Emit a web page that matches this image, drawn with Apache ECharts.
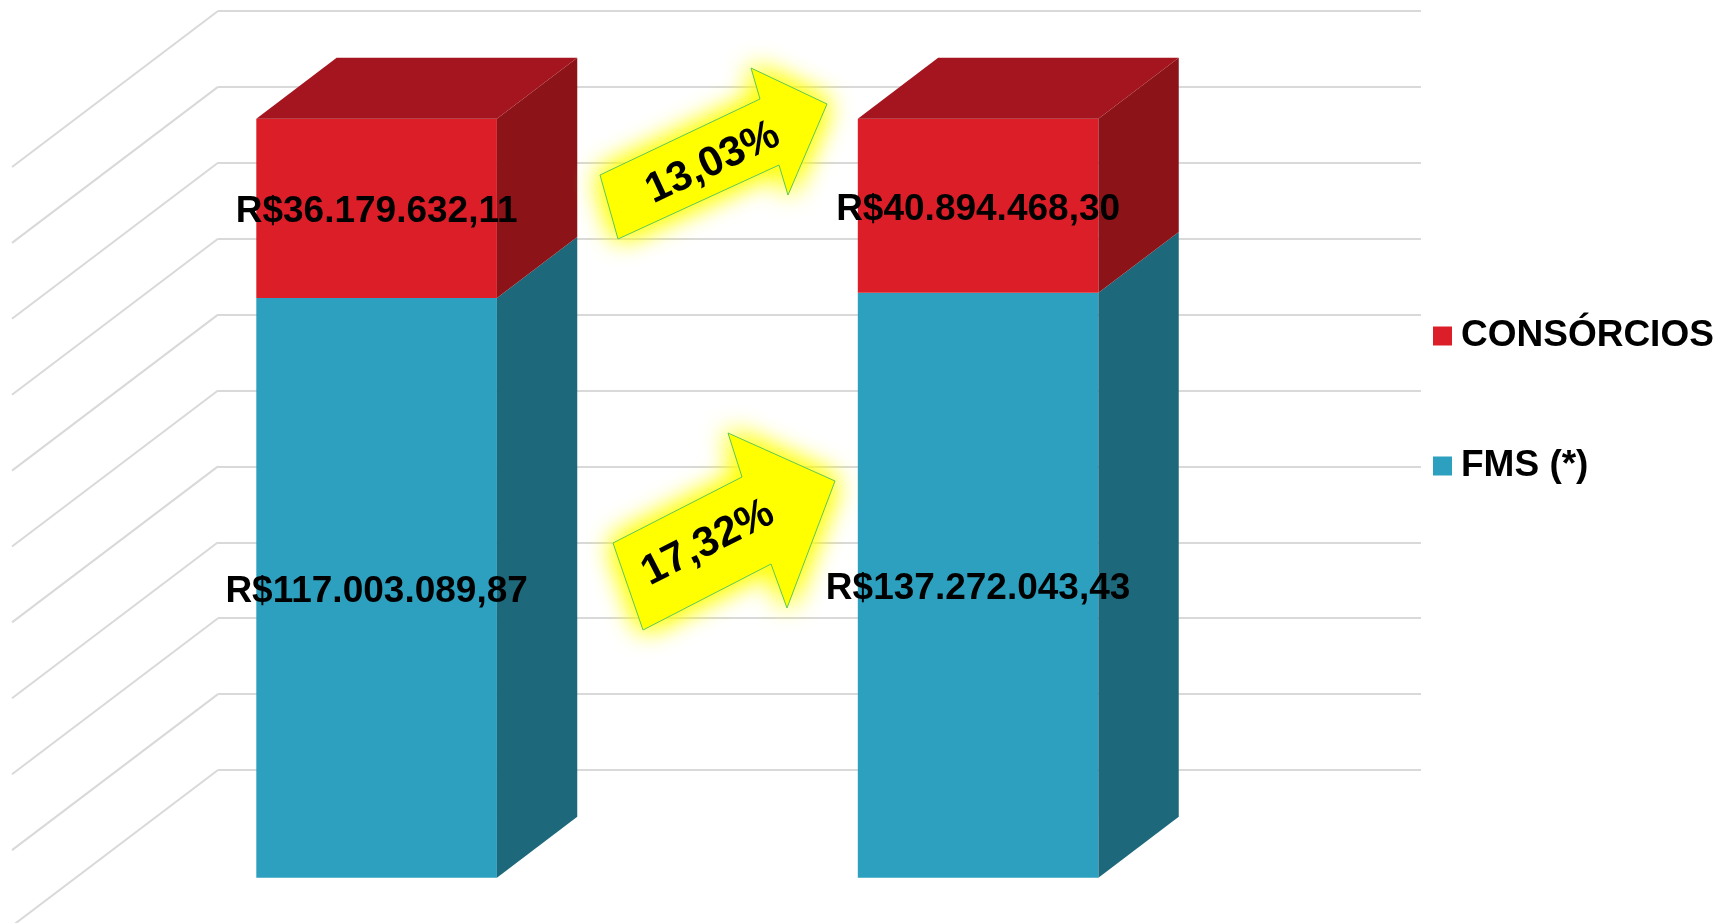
<!DOCTYPE html>
<html>
<head>
<meta charset="utf-8">
<script src="https://cdn.jsdelivr.net/npm/echarts@6/dist/echarts.min.js"></script>
<style>
  html, body { margin: 0; padding: 0; background: #fff; }
  #chart { width: 1719px; height: 923px; }
</style>
</head>
<body>
<div id="chart"></div>
<script>
const categories = ['Período anterior', 'Período atual']
const fmsValues = [117003089.87, 137272043.43]
const consorciosValues = [36179632.11, 40894468.30]
const percentTicks = [0, 10, 20, 30, 40, 50, 60, 70, 80, 90, 100]

const FONT = '"Liberation Sans", Arial, sans-serif'
const RED = { front: '#DC1E28', top: '#A4151F', side: '#8C1419' }
const BLUE = { front: '#2CA0BE', side: '#1E687B' }
// floor depth of the oblique 3D box, bars sit between BACK_AT and FRONT_AT
const DEPTH = [-206, 156]
const FRONT_AT = 0.69
const BACK_AT = 0.3

const brl = v => {
  const [int, dec] = v.toFixed(2).split('.')
  return 'R$' + int.replace(/\B(?=(\d{3})+(?!\d))/g, '.') + ',' + dec
}
const growth = (a, b) => ((b / a - 1) * 100).toFixed(2).replace('.', ',') + '%'

// 100% stacked
const totals = fmsValues.map((v, i) => v + consorciosValues[i])
const fmsData = fmsValues.map((v, i) => [i, 0, v / totals[i] * 100, v])
const consData = consorciosValues.map((v, i) => [i, fmsValues[i] / totals[i] * 100, 100, v])

const renderBar = colors => (params, api) => {
  const cat = api.value(0)
  const lo = api.coord([cat, api.value(1)])
  const hi = api.coord([cat, api.value(2)])
  const w = api.size([1, 0])[0] * 0.4
  const fx = DEPTH[0] * FRONT_AT, fy = DEPTH[1] * FRONT_AT
  const dx = DEPTH[0] * (BACK_AT - FRONT_AT), dy = DEPTH[1] * (BACK_AT - FRONT_AT)
  const x0 = lo[0] + fx - w / 2, x1 = x0 + w
  const yb = lo[1] + fy, yt = hi[1] + fy
  const children = [
    { type: 'rect', shape: { x: x0, y: yt, width: w, height: yb - yt }, style: { fill: colors.front } },
    { type: 'polygon', shape: { points: [[x1, yb], [x1, yt], [x1 + dx, yt + dy], [x1 + dx, yb + dy]] }, style: { fill: colors.side } }
  ]
  if (colors.top) {
    children.push({ type: 'polygon', shape: { points: [[x0, yt], [x1, yt], [x1 + dx, yt + dy], [x0 + dx, yt + dy]] }, style: { fill: colors.top } })
  }
  children.push({
    type: 'text',
    x: x0 + w / 2,
    y: (yb + yt) / 2 + 4,
    style: { text: brl(api.value(3)), fill: '#000', font: 'bold 37px ' + FONT, align: 'center', verticalAlign: 'middle' }
  })
  return { type: 'group', children }
}

const arrowStyle = { fill: '#FFFF00', stroke: '#5CC85C', lineWidth: 1, shadowBlur: 28, shadowColor: '#FFFF00' }
const arrowText = (text, x, y, deg) => ({
  type: 'text', x, y, rotation: deg * Math.PI / 180, z: 20,
  style: { text, fill: '#000', font: 'bold 42px ' + FONT, align: 'center', verticalAlign: 'middle' }
})
const arrow = points => [
  { type: 'polygon', z: 9, shape: { points }, style: { fill: '#FFFF00', shadowBlur: 28, shadowColor: '#FFFF00' } },
  { type: 'polygon', z: 10, shape: { points }, style: arrowStyle }
]

const chart = echarts.init(document.getElementById('chart'))
chart.setOption({
  animation: false,
  grid: { left: 218, right: 298, top: 11, bottom: 153 },
  xAxis: {
    type: 'category',
    data: categories,
    axisLine: { show: false },
    axisTick: { show: false },
    axisLabel: { show: false }
  },
  yAxis: {
    type: 'value',
    min: 0,
    max: 100,
    interval: 10,
    axisLabel: { show: false },
    splitLine: { lineStyle: { color: '#D9D9D9', width: 2 } }
  },
  legend: {
    data: ['CONSÓRCIOS', 'FMS (*)'],
    orient: 'vertical',
    left: 1428,
    top: 311,
    icon: 'rect',
    itemWidth: 19,
    itemHeight: 19,
    itemGap: 90,
    selectedMode: false,
    textStyle: { fontSize: 37, fontWeight: 'bold', color: '#000', fontFamily: FONT, lineHeight: 40, padding: [0, 0, 0, 4] }
  },
  series: [
    {
      type: 'custom',
      silent: true,
      data: percentTicks.map(t => [0, t]),
      renderItem: (params, api) => {
        const p = api.coord([0, api.value(1)])
        const x = params.coordSys.x
        return {
          type: 'line',
          shape: { x1: x, y1: p[1], x2: x + DEPTH[0], y2: p[1] + DEPTH[1] },
          style: { stroke: '#D9D9D9', lineWidth: 2 }
        }
      }
    },
    {
      name: 'FMS (*)',
      type: 'custom',
      itemStyle: { color: BLUE.front },
      encode: { x: 0, y: [1, 2] },
      data: fmsData,
      renderItem: renderBar(BLUE)
    },
    {
      name: 'CONSÓRCIOS',
      type: 'custom',
      itemStyle: { color: RED.front },
      encode: { x: 0, y: [1, 2] },
      data: consData,
      renderItem: renderBar(RED)
    }
  ],
  graphic: [
    ...arrow([[600, 175], [760, 99], [751, 68], [827, 104], [788, 195], [779, 165], [618, 239]]),
    arrowText(growth(consorciosValues[0], consorciosValues[1]), 713, 163, 25),
    ...arrow([[613, 543], [742, 477], [728, 433], [835, 481], [787, 608], [771, 564], [643, 630]]),
    arrowText(growth(fmsValues[0], fmsValues[1]), 708, 543, 27)
  ]
})
</script>
</body>
</html>
